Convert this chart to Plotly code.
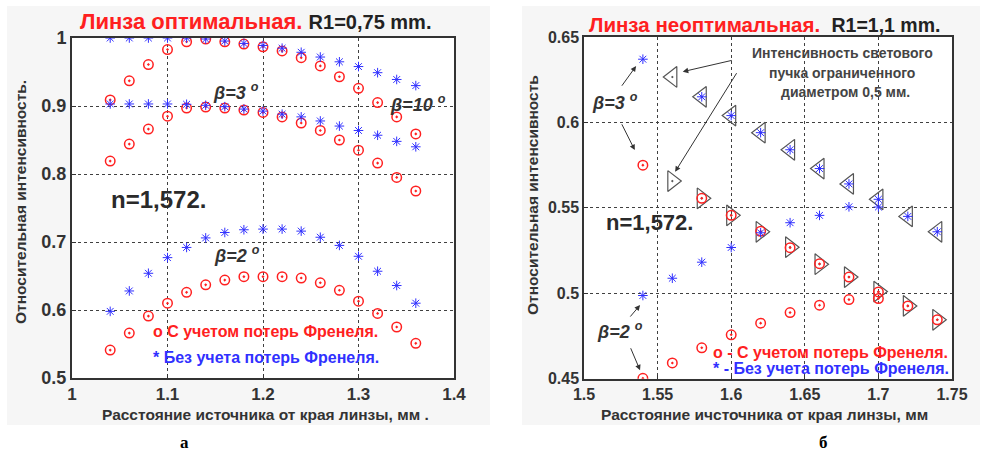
import plotly.graph_objects as go

W, H = 982, 453

# ---------------- data: left panel (optimal lens) ----------------
x_left = [1.04, 1.06, 1.08, 1.10, 1.12, 1.14, 1.16, 1.18, 1.20, 1.22, 1.24, 1.26, 1.28, 1.30, 1.32, 1.34, 1.36]
red10_left = [0.909, 0.937, 0.961, 0.983, 0.9945, 0.9985, 0.9945, 0.991, 0.987, 0.981, 0.971, 0.959, 0.943, 0.926, 0.905, 0.884, 0.859]
blue10_left = [1.0, 1.0, 1.0, 1.0, 1.0, 0.9985, 0.9955, 0.992, 0.989, 0.985, 0.979, 0.972, 0.965, 0.958, 0.949, 0.939, 0.930]
red3_left = [0.819, 0.844, 0.866, 0.885, 0.897, 0.8985, 0.897, 0.894, 0.8905, 0.884, 0.875, 0.864, 0.850, 0.835, 0.816, 0.795, 0.775]
blue3_left = [0.903, 0.903, 0.903, 0.903, 0.9025, 0.901, 0.899, 0.8955, 0.8925, 0.888, 0.884, 0.878, 0.8705, 0.864, 0.857, 0.848, 0.840]
red2_left = [0.541, 0.566, 0.591, 0.610, 0.626, 0.637, 0.644, 0.649, 0.649, 0.649, 0.647, 0.640, 0.629, 0.613, 0.595, 0.575, 0.551]
blue2_left = [0.598, 0.628, 0.654, 0.677, 0.692, 0.706, 0.714, 0.718, 0.719, 0.719, 0.716, 0.707, 0.695, 0.679, 0.657, 0.636, 0.610]

x_ticks_left = [1.0, 1.1, 1.2, 1.3, 1.4]
x_ticktext_left = ["1", "1.1", "1.2", "1.3", "1.4"]
y_ticks_left = [0.5, 0.6, 0.7, 0.8, 0.9, 1.0]
y_ticktext_left = ["0.5", "0.6", "0.7", "0.8", "0.9", "1"]

# ---------------- data: right panel (non-optimal lens) ----------------
x_right = [1.54, 1.56, 1.58, 1.60, 1.62, 1.64, 1.66, 1.68, 1.70, 1.72, 1.74]
blue3_right = [0.637, None, 0.615, 0.604, 0.594, 0.584, 0.573, 0.564, 0.555, 0.545, 0.536]
red3_right = [0.575, None, 0.5556, 0.5456, 0.5363, 0.5267, 0.5173, 0.5095, 0.5008, 0.4926, 0.4845]
blue2_right = [0.4987, 0.5088, 0.5182, 0.5268, 0.5354, 0.5413, 0.5456, 0.5506, 0.5505, None, None]
red2_right = [0.4502, 0.4592, 0.4681, 0.4757, 0.4825, 0.4887, 0.4930, 0.4963, 0.4969, None, None]
beam_nofresnel_right = [None, 0.6266, 0.615, 0.604, 0.594, 0.584, 0.573, 0.564, 0.555, 0.545, 0.536]
beam_fresnel_right = [None, 0.5657, 0.5556, 0.5456, 0.536, 0.527, 0.517, 0.5095, 0.501, 0.4926, 0.4845]

x_ticks_right = [1.5, 1.55, 1.6, 1.65, 1.7, 1.75]
x_ticktext_right = ["1.5", "1.55", "1.6", "1.65", "1.7", "1.75"]
y_ticks_right = [0.45, 0.5, 0.55, 0.6, 0.65]
y_ticktext_right = ["0.45", "0.5", "0.55", "0.6", "0.65"]

# ---------------- styling ----------------
FONT = "Liberation Sans"
RED = "#ff2020"
BLUE = "#3030ff"
DARK = "#333333"

def px_x(p):
    return p / W

def px_y(p):
    return 1 - p / H

fig = go.Figure()

red_marker = dict(symbol="circle-open-dot", size=9.5, color=RED, line=dict(color=RED, width=1.5))
blue_marker = dict(symbol="asterisk-open", size=8, color=BLUE, line=dict(color=BLUE, width=1))

# left panel traces
for ys in (red10_left, red3_left, red2_left):
    fig.add_trace(go.Scatter(x=x_left, y=ys, mode="markers", marker=red_marker,
                             xaxis="x", yaxis="y", showlegend=False, hoverinfo="skip"))
for ys in (blue10_left, blue3_left, blue2_left):
    fig.add_trace(go.Scatter(x=x_left, y=ys, mode="markers", marker=blue_marker,
                             xaxis="x", yaxis="y", showlegend=False, hoverinfo="skip"))

# right panel traces
tri_line = dict(color="#555555", width=1.2)
fig.add_trace(go.Scatter(x=x_right, y=beam_nofresnel_right, mode="markers",
                         marker=dict(symbol="triangle-left-open-dot", size=18, color="#555555", line=tri_line),
                         xaxis="x2", yaxis="y2", showlegend=False, hoverinfo="skip"))
fig.add_trace(go.Scatter(x=x_right, y=beam_fresnel_right, mode="markers",
                         marker=dict(symbol="triangle-right-open-dot", size=18, color="#555555", line=tri_line),
                         xaxis="x2", yaxis="y2", showlegend=False, hoverinfo="skip"))
for ys in (red3_right, red2_right):
    fig.add_trace(go.Scatter(x=x_right, y=ys, mode="markers", marker=red_marker,
                             xaxis="x2", yaxis="y2", showlegend=False, hoverinfo="skip"))
for ys in (blue3_right, blue2_right):
    fig.add_trace(go.Scatter(x=x_right, y=ys, mode="markers", marker=blue_marker,
                             xaxis="x2", yaxis="y2", showlegend=False, hoverinfo="skip"))

# plot area geometry (pixels)
L_x0, L_x1, L_y0, L_y1 = 72, 454, 38, 378
R_x0, R_x1, R_y0, R_y1 = 584, 952, 37, 378.7

grid_common = dict(showgrid=True, gridcolor="#404040", gridwidth=1, griddash="3px,3px",
                   zeroline=False, showline=True, mirror=True, linecolor=DARK,
                   ticks="inside", ticklen=4, tickcolor=DARK, automargin=False)

fig.update_layout(
    width=W, height=H, margin=dict(l=0, r=0, t=0, b=0),
    paper_bgcolor="white", plot_bgcolor="rgba(0,0,0,0)",
    xaxis=dict(domain=[px_x(L_x0), px_x(L_x1)], range=[1.0, 1.4], anchor="y",
               tickvals=x_ticks_left, ticktext=x_ticktext_left, linewidth=2,
               tickfont=dict(family=FONT, size=17, color=DARK, weight="bold"), **grid_common),
    yaxis=dict(domain=[px_y(L_y1), px_y(L_y0)], range=[0.5, 1.0], anchor="x",
               tickvals=y_ticks_left, ticktext=y_ticktext_left, linewidth=2,
               tickfont=dict(family=FONT, size=18, color=DARK, weight="bold"), **grid_common),
    xaxis2=dict(domain=[px_x(R_x0), px_x(R_x1)], range=[1.5, 1.75], anchor="y2",
                tickvals=x_ticks_right, ticktext=x_ticktext_right, linewidth=1.5,
                tickfont=dict(family=FONT, size=16, color=DARK, weight="bold"), **grid_common),
    yaxis2=dict(domain=[px_y(R_y1), px_y(R_y0)], range=[0.45, 0.65], anchor="x2",
                tickvals=y_ticks_right, ticktext=y_ticktext_right, linewidth=1.5,
                tickfont=dict(family=FONT, size=16, color=DARK, weight="bold"), **grid_common),
)

# backgrounds: gray panels and white plot areas
shapes = []
for (x0, y0, x1, y1, col) in [
    (7, 6, 490, 425, "#f6f6f6"),
    (522, 6, 980, 425, "#f6f6f6"),
    (L_x0, L_y0, L_x1, L_y1, "white"),
    (R_x0, R_y0, R_x1, R_y1, "white"),
]:
    shapes.append(dict(type="rect", xref="paper", yref="paper", x0=px_x(x0), x1=px_x(x1),
                       y0=px_y(y1), y1=px_y(y0), fillcolor=col, line=dict(width=0), layer="below"))
fig.update_layout(shapes=shapes)

ann = []

def text_ann(x, y, text, size, color=DARK, xref="paper", yref="paper", xanchor="center",
             yanchor="middle", family=FONT, textangle=0, weight="bold", italic=False, align="center"):
    ann.append(dict(x=x, y=y, xref=xref, yref=yref, text=text, showarrow=False,
                    xanchor=xanchor, yanchor=yanchor, textangle=textangle, align=align,
                    borderpad=0,
                    font=dict(family=family, size=size, color=color, weight=weight,
                              style="italic" if italic else "normal")))

# titles
text_ann(px_x(256), px_y(21), f"<span style='color:{RED}'>Линза оптимальная.</span> <span style='font-size:20px'>R1=0,75 mm.</span>", 22, color="#222222")
text_ann(px_x(764), px_y(25), f"<span style='color:{RED}'>Линза неоптимальная.</span>  <span style='font-size:19.5px'>R1=1,1 mm.</span>", 20.5, color="#222222")

# axis titles
text_ann(px_x(20), px_y(202), "Относительная интенсивность.", 15.5, textangle=-90)
text_ann(px_x(532), px_y(195), "Относительная интенсивность", 15.5, textangle=-90)
text_ann(px_x(265), px_y(414), "Расстояние источника от края линзы, мм .", 15.5)
text_ann(px_x(764), px_y(414), "Расстояние ичсточника от края линзы, мм", 15.5)

# panel letters
text_ann(px_x(184), px_y(452.5), "а", 17, color="black", family="Liberation Serif", yanchor="bottom")
text_ann(px_x(823), px_y(452.5), "б", 17, color="black", family="Liberation Serif", yanchor="bottom")

# left panel labels (data coords)
text_ann(1.172, 0.921, "β=3 <sup>o</sup>", 18, xref="x", yref="y", italic=True)
text_ann(1.362, 0.903, "β=10 <sup>o</sup>", 18, xref="x", yref="y", italic=True)
text_ann(1.173, 0.681, "β=2 <sup>o</sup>", 18, xref="x", yref="y", italic=True)
text_ann(1.091, 0.762, "n=1,572.", 24, xref="x", yref="y", color="#2a2a2a")
text_ann(1.084, 0.568, "o С учетом потерь Френеля.", 16, color=RED, xref="x", yref="y", xanchor="left")
text_ann(1.084, 0.530, "* Без учета потерь Френеля.", 16, color=BLUE, xref="x", yref="y", xanchor="left")

# right panel labels
text_ann(1.5211, 0.612, "β=3 <sup>o</sup>", 18, xref="x2", yref="y2", italic=True)
text_ann(1.5245, 0.4785, "β=2 <sup>o</sup>", 18, xref="x2", yref="y2", italic=True)
text_ann(1.5442, 0.5417, "n=1,572.", 22, xref="x2", yref="y2", color="#2a2a2a")
text_ann(1.6755, 0.6405, "Интенсивность светового", 14, xref="x2", yref="y2", color="#444444")
text_ann(1.6755, 0.6290, "пучка ограниченного", 14, xref="x2", yref="y2", color="#444444")
text_ann(1.6775, 0.6178, "диаметром 0,5 мм.", 14, xref="x2", yref="y2", color="#444444")
text_ann(1.5871, 0.4656, "o - С учетом потерь Френеля.", 16, color=RED, xref="x2", yref="y2", xanchor="left")
text_ann(1.5871, 0.4562, "* - Без учета потерь Френеля.", 16, color=BLUE, xref="x2", yref="y2", xanchor="left")

# arrows (right panel)
arrows = [
    ((1.6014, 0.6365), (1.5671, 0.6297)),
    ((1.6043, 0.6297), (1.5619, 0.5711)),
    ((1.5250, 0.6206), (1.5354, 0.6330)),
    ((1.5252, 0.5998), (1.5345, 0.5838)),
    ((1.5306, 0.4855), (1.5381, 0.4931)),
    ((1.5313, 0.4687), (1.5381, 0.4549)),
]
for (tx, ty), (hx, hy) in arrows:
    ann.append(dict(x=hx, y=hy, ax=tx, ay=ty, xref="x2", yref="y2", axref="x2", ayref="y2",
                    text="", showarrow=True, arrowhead=2, arrowsize=1.1, arrowwidth=1,
                    arrowcolor="#333333", standoff=0, startstandoff=0))

fig.update_layout(annotations=ann)

fig.write_html("out.html", post_script="document.body.style.margin='0px';")
